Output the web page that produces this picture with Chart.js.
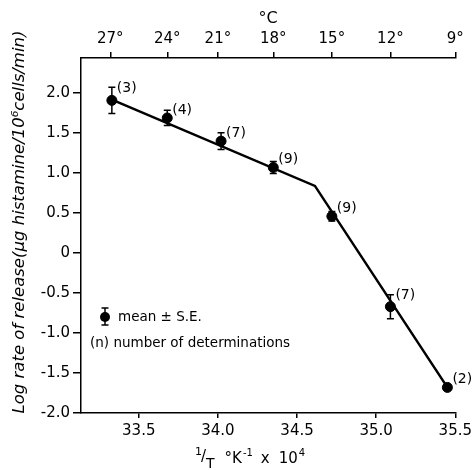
<!DOCTYPE html>
<html>
<head>
<meta charset="utf-8">
<script src="https://cdn.jsdelivr.net/npm/chart.js@4.4.1/dist/chart.umd.min.js"></script>
<style>
  html, body { margin: 0; padding: 0; background: #fff; }
  #wrap { width: 476px; height: 470px; }
</style>
</head>
<body>
<div id="wrap"><canvas id="c" width="476" height="470"></canvas></div>
<script>
// ---- data ----
const invT      = [33.33, 33.68, 34.02, 34.35, 34.72, 35.09, 35.45];   // 1/T x 10^4
const logRate   = [1.91, 1.69, 1.40, 1.07, 0.46, -0.67, -1.68];
const stdErr    = [0.165, 0.095, 0.105, 0.075, 0.06, 0.15, 0];
const nDeterm   = [3, 4, 7, 9, 9, 7, 2];

const fitX      = [33.33, 34.613, 35.45];
const fitY      = [1.92, 0.84, -1.68];

const xTicks      = [33.5, 34.0, 34.5, 35.0, 35.5];
const xTickLabels = ["33.5", "34.0", "34.5", "35.0", "35.5"];
const yTicks      = [2.0, 1.5, 1.0, 0.5, 0, -0.5, -1.0, -1.5, -2.0];
const yTickLabels = ["2.0", "1.5", "1.0", "0.5", "0", "-0.5", "-1.0", "-1.5", "-2.0"];
const cTicks      = [33.32, 33.68, 34.0, 34.35, 34.72, 35.09, 35.5];
const cTickLabels = ["27°", "24°", "21°", "18°", "15°", "12°", "9°"];

const yTitle = 'Log rate of release(μg histamine/10⁶cells/min)';

const X_MIN = 33.135, X_MAX = 35.5, Y_MIN = -2.0, Y_MAX = 2.44;

const FONT = "'DejaVu Sans', sans-serif";

function tickSetter(vals) {
  return function (scale) { scale.ticks = vals.map(v => ({ value: v })); };
}
function labelFrom(vals, labels) {
  return function (value) {
    const i = vals.findIndex(v => Math.abs(v - value) < 1e-6);
    return i >= 0 ? labels[i] : '';
  };
}
const axisGrid = { display: true, drawOnChartArea: false, drawTicks: true, tickLength: 6, color: '#000', lineWidth: 1.5 };
const axisBorder = { display: true, color: '#000', width: 1.5 };

const overlay = {
  id: 'overlay',
  afterDatasetsDraw(chart) {
    const ctx = chart.ctx;
    const xs = chart.scales.x, ys = chart.scales.y;
    ctx.save();
    ctx.strokeStyle = '#000';
    ctx.fillStyle = '#000';
    ctx.lineWidth = 1.5;
    // error bars
    for (let i = 0; i < invT.length; i++) {
      if (!stdErr[i]) continue;
      const px = xs.getPixelForValue(invT[i]);
      const yHi = ys.getPixelForValue(logRate[i] + stdErr[i]);
      const yLo = ys.getPixelForValue(logRate[i] - stdErr[i]);
      ctx.beginPath();
      ctx.moveTo(px, yHi); ctx.lineTo(px, yLo);
      ctx.moveTo(px - 3.5, yHi); ctx.lineTo(px + 3.5, yHi);
      ctx.moveTo(px - 3.5, yLo); ctx.lineTo(px + 3.5, yLo);
      ctx.stroke();
    }
    // (n) labels
    ctx.font = '14px ' + FONT;
    ctx.textAlign = 'left';
    ctx.textBaseline = 'middle';
    for (let i = 0; i < invT.length; i++) {
      const px = xs.getPixelForValue(invT[i]);
      const py = ys.getPixelForValue(logRate[i]);
      const top = ys.getPixelForValue(logRate[i] + stdErr[i]);
      const ly = Math.min(top, py - 9) + 1;
      ctx.fillText('(' + nDeterm[i] + ')', px + 5, ly);
    }
    // legend
    const lx = chart.chartArea.left + 24, ly = 317;
    ctx.beginPath(); ctx.arc(lx, ly, 5, 0, Math.PI * 2); ctx.fill();
    ctx.beginPath();
    ctx.moveTo(lx, ly - 9); ctx.lineTo(lx, ly + 8);
    ctx.moveTo(lx - 3.5, ly - 9); ctx.lineTo(lx + 3.5, ly - 9);
    ctx.moveTo(lx - 3.5, ly + 8); ctx.lineTo(lx + 3.5, ly + 8);
    ctx.stroke();
    ctx.font = '13.5px ' + FONT;
    ctx.fillText('mean ± S.E.', lx + 13, ly);
    ctx.fillText('(n) number of determinations', chart.chartArea.left + 9, 343);
    // y-axis title
    ctx.save();
    ctx.translate(20, 222);
    ctx.rotate(-Math.PI / 2);
    ctx.textAlign = 'center';
    ctx.textBaseline = 'middle';
    ctx.font = 'italic 16.5px ' + FONT;
    ctx.fillText(yTitle, 0, 0);
    ctx.restore();
    // x-axis title: 1/T °K-1 x 10^4
    let x = 195; const by = 463;
    ctx.textAlign = 'left';
    ctx.textBaseline = 'alphabetic';
    ctx.font = '11px ' + FONT; ctx.fillText('1', x, by - 8); x += 6;
    ctx.font = '15px ' + FONT; ctx.fillText('/', x, by - 2); x += 5;
    ctx.font = '14px ' + FONT; ctx.fillText('T', x, by + 5); x += ctx.measureText('T').width + 10;
    ctx.font = '15px ' + FONT; ctx.fillText('°K', x, by); x += ctx.measureText('°K').width;
    ctx.font = '10px ' + FONT; ctx.fillText('-1', x + 1, by - 7); x += ctx.measureText('-1').width + 9;
    ctx.font = '15px ' + FONT; ctx.fillText('x', x, by); x += ctx.measureText('x').width + 9;
    ctx.fillText('10', x, by); x += ctx.measureText('10').width + 1;
    ctx.font = '10px ' + FONT; ctx.fillText('4', x, by - 7);
    ctx.restore();
  }
};

new Chart(document.getElementById('c'), {
  type: 'scatter',
  data: {
    datasets: [
      {
        type: 'line',
        data: fitX.map((v, i) => ({ x: v, y: fitY[i] })),
        borderColor: '#000', borderWidth: 2.5, pointRadius: 0, fill: false, tension: 0,
        xAxisID: 'x', yAxisID: 'y'
      },
      {
        data: invT.map((v, i) => ({ x: v, y: logRate[i] })),
        backgroundColor: '#000', borderColor: '#000', pointRadius: 5, pointHoverRadius: 5,
        xAxisID: 'x', yAxisID: 'y'
      }
    ]
  },
  options: {
    responsive: false,
    animation: false,
    events: [],
    layout: { padding: { left: 0, right: 19, top: 0, bottom: 0 } },
    plugins: { legend: { display: false }, tooltip: { enabled: false } },
    scales: {
      x: {
        type: 'linear', position: 'bottom', min: X_MIN, max: X_MAX,
        afterBuildTicks: tickSetter(xTicks),
        afterFit(s) { s.height = 57; },
        grid: Object.assign({}, axisGrid, { tickLength: 5 }), border: axisBorder,
        ticks: { color: '#000', font: { family: FONT, size: 15 }, padding: 4, maxRotation: 0, autoSkip: false,
                 callback: labelFrom(xTicks, xTickLabels) }
      },
      x2: {
        type: 'linear', position: 'top', min: X_MIN, max: X_MAX,
        afterBuildTicks: tickSetter(cTicks),
        afterFit(s) { s.height = 58; },
        grid: axisGrid, border: axisBorder,
        title: { display: true, text: '°C', color: '#000', font: { family: FONT, size: 16 }, padding: { top: 9, bottom: 0 } },
        ticks: { color: '#000', font: { family: FONT, size: 15 }, padding: 4, maxRotation: 0, autoSkip: false,
                 callback: labelFrom(cTicks, cTickLabels) }
      },
      y: {
        type: 'linear', position: 'left', min: Y_MIN, max: Y_MAX,
        afterBuildTicks: tickSetter(yTicks),
        afterFit(s) { s.width = 81; },
        grid: Object.assign({}, axisGrid, { tickLength: 8 }), border: axisBorder,
        ticks: { color: '#000', font: { family: FONT, size: 15 }, padding: 3, autoSkip: false,
                 callback: labelFrom(yTicks, yTickLabels) }
      }
    }
  },
  plugins: [overlay]
});
</script>
</body>
</html>
